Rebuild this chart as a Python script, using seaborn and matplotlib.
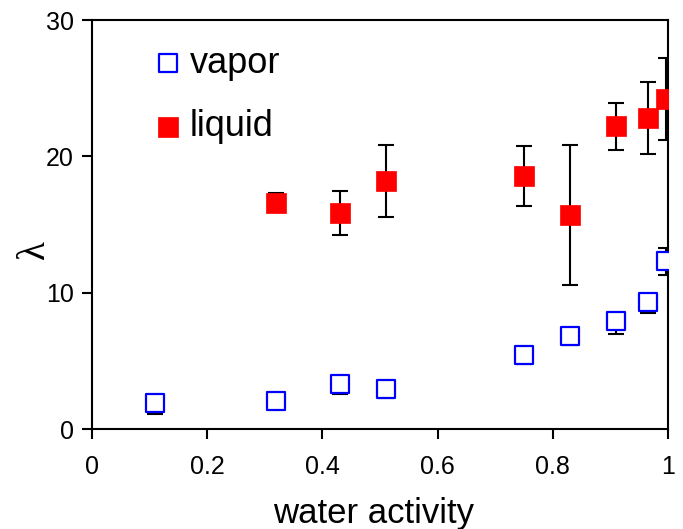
import matplotlib
matplotlib.use("Agg")
import matplotlib.pyplot as plt
import seaborn as sns
import pandas as pd

# Data
vapor_x = [0.11, 0.32, 0.43, 0.51, 0.75, 0.83, 0.91, 0.965, 0.997]
vapor_y = [1.9, 2.05, 3.3, 2.9, 5.4, 6.8, 7.9, 9.3, 12.3]
vapor_err_low = [0.8, 0.4, 0.7, 0.6, 0.6, 0.6, 0.9, 0.8, 1.0]
vapor_err_high = [0.4, 0.4, 0.4, 0.4, 0.4, 0.4, 0.4, 0.4, 1.0]

liquid_x = [0.32, 0.43, 0.51, 0.75, 0.83, 0.91, 0.965, 0.997]
liquid_y = [16.6, 15.85, 18.2, 18.55, 15.7, 22.2, 22.8, 24.2]
liquid_err = [0.7, 1.6, 2.65, 2.2, 5.15, 1.7, 2.65, 3.0]

xticks = [0, 0.2, 0.4, 0.6, 0.8, 1.0]
xticklabels = ["0", "0.2", "0.4", "0.6", "0.8", "1"]
yticks = [0, 10, 20, 30]
yticklabels = ["0", "10", "20", "30"]

sns.set_theme(style="white")
plt.rcParams['font.family'] = ['Liberation Sans', 'DejaVu Sans']
plt.rcParams['text.color'] = 'black'
plt.rcParams['axes.labelcolor'] = 'black'
plt.rcParams['xtick.color'] = 'black'
plt.rcParams['ytick.color'] = 'black'

fig = plt.figure(figsize=(6.83, 5.29), dpi=100)
ax = fig.add_axes([0.1347, 0.189, 0.8433, 0.773])

vdf = pd.DataFrame({"x": vapor_x, "y": vapor_y})
ldf = pd.DataFrame({"x": liquid_x, "y": liquid_y})

ax.errorbar(vapor_x, vapor_y, yerr=[vapor_err_low, vapor_err_high], fmt="none",
            ecolor="black", elinewidth=1.5, capsize=5.5, capthick=1.5, zorder=2)
ax.errorbar(liquid_x, liquid_y, yerr=liquid_err, fmt="none", ecolor="black",
            elinewidth=1.5, capsize=5.5, capthick=1.5, zorder=2)

sns.scatterplot(data=vdf, x="x", y="y", ax=ax, marker="s", s=160,
                facecolor="white", edgecolor="#0000ff", linewidth=1.6,
                label="vapor", zorder=3)
sns.scatterplot(data=ldf, x="x", y="y", ax=ax, marker="s", s=200,
                color="#ff0000", edgecolor="#ff0000", linewidth=0.5,
                label="liquid", zorder=3)

ax.set_xlim(0, 1)
ax.set_ylim(0, 30)
ax.set_xticks(xticks)
ax.set_xticklabels(xticklabels, fontsize=18, color="black")
ax.set_yticks(yticks)
ax.set_yticklabels(yticklabels, fontsize=18, color="black")
ax.tick_params(axis="both", direction="out", length=7, width=1.5,
               colors="black", bottom=True, left=True)
ax.tick_params(axis="x", pad=12)
ax.tick_params(axis="y", pad=6)
for sp in ax.spines.values():
    sp.set_linewidth(1.5)
    sp.set_color("black")

ax.set_xlabel("water activity", fontsize=25, color="black")
ax.xaxis.set_label_coords(0.488, -0.167)
ax.set_ylabel("λ", fontsize=28, family=["Liberation Serif", "DejaVu Serif"],
              color="black")
ax.yaxis.label.set_va("center")
ax.yaxis.set_label_coords(-0.10, 0.44)

leg = ax.legend(loc="upper left", bbox_to_anchor=(0.0757, 0.973), frameon=False,
                fontsize=26, handlelength=1.0, handletextpad=0.1,
                labelspacing=0.8, markerscale=1.0, borderaxespad=0.0)
for t in leg.get_texts():
    t.set_color("black")

fig.savefig("out.png", dpi=100)
